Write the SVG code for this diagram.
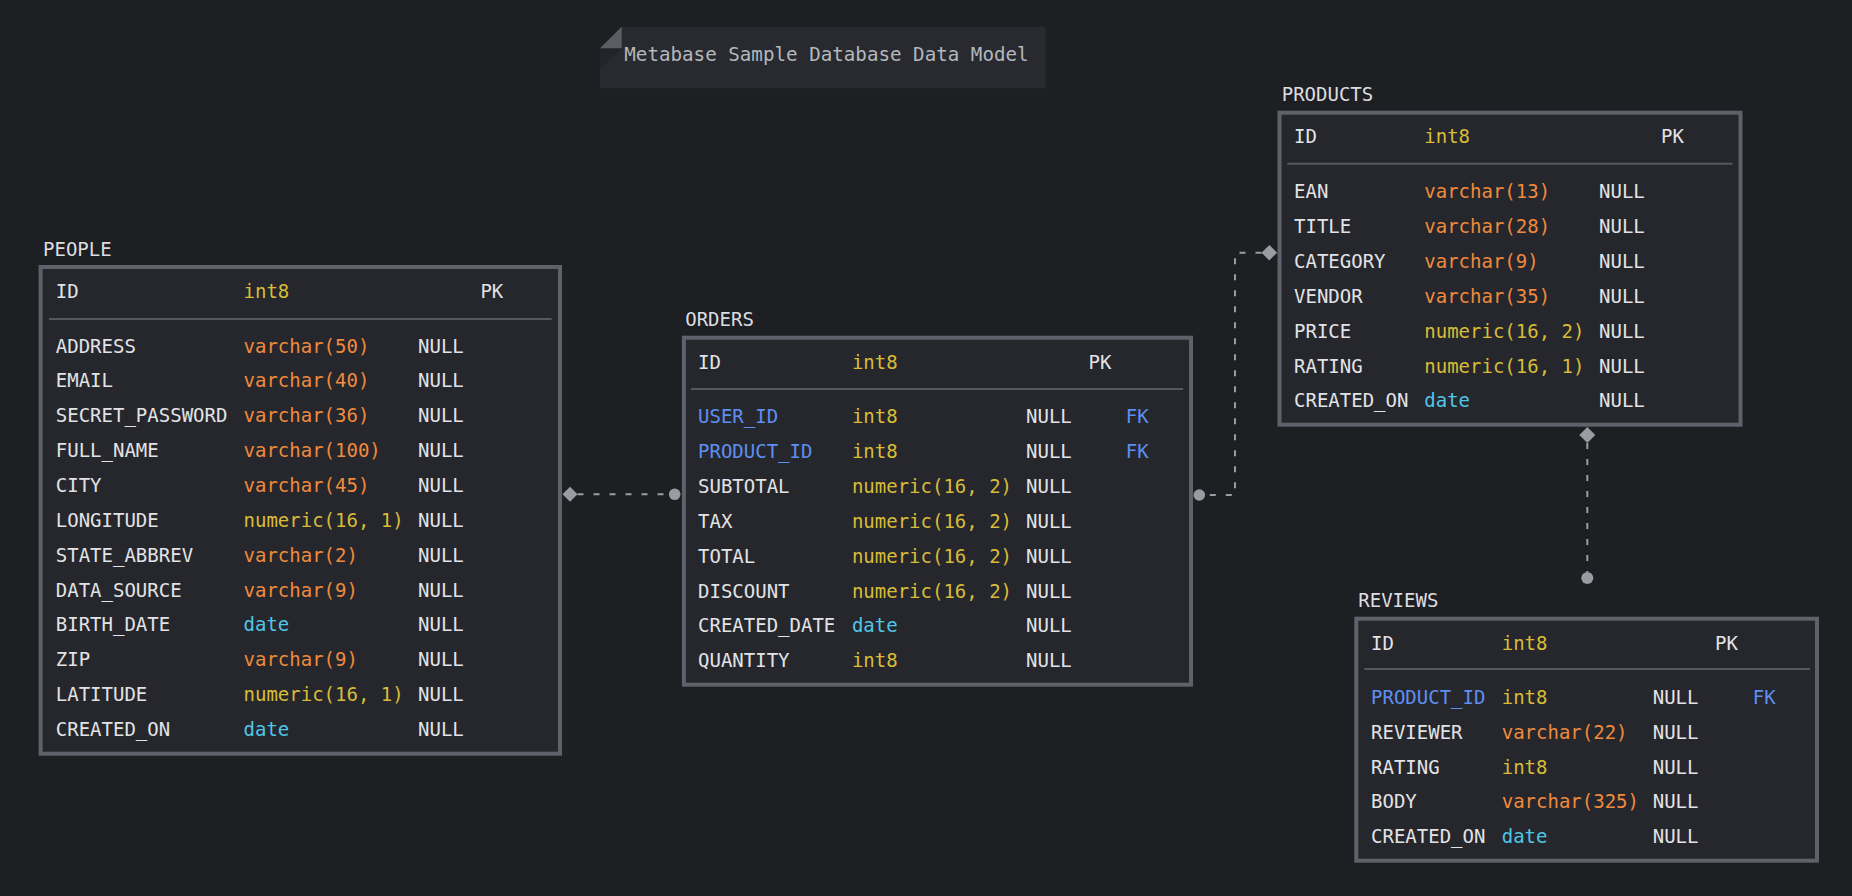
<svg xmlns="http://www.w3.org/2000/svg" width="1852" height="896" viewBox="0 0 1852 896">
<style>
text{font-family:"DejaVu Sans Mono","Liberation Mono",monospace;font-size:19px;fill:#e2e3e6}
.title{fill:#dcdde0}
.tbl{fill:#26272c;stroke:#5f616b;stroke-width:4}
.sep{stroke:#555761;stroke-width:2}
.o{fill:#f08a3c}
.y{fill:#d8bc38}
.c{fill:#4fc6e8}
.b{fill:#5d8ff2}
.conn{fill:none;stroke:#9a9ca2;stroke-width:2;stroke-dasharray:6 10}
.end{fill:#9a9ca3}
.note-t{fill:#b4b7bc;font-size:19.2px}
</style>
<rect width="1852" height="896" fill="#1e1f23"/>

<g id="note">
<polygon points="621.7,26.7 1045.7,26.7 1045.7,88.3 600,88.3 600,48.3" fill="#282a30"/>
<polygon points="600,48.3 621.7,48.3 600,69.5" fill="#232429"/>
<polygon points="621.7,26.7 621.7,48.3 600,48.3" fill="#5b5d63"/>
<text class="note-t" x="624.3" y="61">Metabase Sample Database Data Model</text>
</g>

<g id="connectors">
<path class="conn" d="M577.5,494.3 H669"/>
<polygon class="end" points="562.5,494.3 570,486.8 577.5,494.3 570,501.8"/>
<circle class="end" cx="674.7" cy="494.3" r="5.8"/>
<path class="conn" d="M1261.5,252.7 H1235 V495 H1205"/>
<polygon class="end" points="1261.5,252.7 1269.3,244.9 1277.1,252.7 1269.3,260.5"/>
<circle class="end" cx="1199.3" cy="495" r="5.8"/>
<path class="conn" d="M1587.3,443 V572"/>
<polygon class="end" points="1587.3,427 1595.3,435 1587.3,443 1579.3,435"/>
<circle class="end" cx="1587.3" cy="578" r="6"/>
</g>

<g id="people">
<text class="title" x="43" y="256">PEOPLE</text>
<rect class="tbl" x="40.6" y="267" width="519.4" height="486.7"/>
<text x="55.8" y="298.3">ID</text><text class="y" x="243.5" y="298.3">int8</text><text x="480.4" y="298.3">PK</text>
<line class="sep" x1="49" y1="319" x2="551.7" y2="319"/>
<text x="55.8" y="352.6">ADDRESS</text><text class="o" x="243.5" y="352.6">varchar(50)</text><text x="418" y="352.6">NULL</text>
<text x="55.8" y="387.45">EMAIL</text><text class="o" x="243.5" y="387.45">varchar(40)</text><text x="418" y="387.45">NULL</text>
<text x="55.8" y="422.3">SECRET_PASSWORD</text><text class="o" x="243.5" y="422.3">varchar(36)</text><text x="418" y="422.3">NULL</text>
<text x="55.8" y="457.15">FULL_NAME</text><text class="o" x="243.5" y="457.15">varchar(100)</text><text x="418" y="457.15">NULL</text>
<text x="55.8" y="492">CITY</text><text class="o" x="243.5" y="492">varchar(45)</text><text x="418" y="492">NULL</text>
<text x="55.8" y="526.85">LONGITUDE</text><text class="y" x="243.5" y="526.85">numeric(16, 1)</text><text x="418" y="526.85">NULL</text>
<text x="55.8" y="561.7">STATE_ABBREV</text><text class="o" x="243.5" y="561.7">varchar(2)</text><text x="418" y="561.7">NULL</text>
<text x="55.8" y="596.55">DATA_SOURCE</text><text class="o" x="243.5" y="596.55">varchar(9)</text><text x="418" y="596.55">NULL</text>
<text x="55.8" y="631.4">BIRTH_DATE</text><text class="c" x="243.5" y="631.4">date</text><text x="418" y="631.4">NULL</text>
<text x="55.8" y="666.25">ZIP</text><text class="o" x="243.5" y="666.25">varchar(9)</text><text x="418" y="666.25">NULL</text>
<text x="55.8" y="701.1">LATITUDE</text><text class="y" x="243.5" y="701.1">numeric(16, 1)</text><text x="418" y="701.1">NULL</text>
<text x="55.8" y="735.95">CREATED_ON</text><text class="c" x="243.5" y="735.95">date</text><text x="418" y="735.95">NULL</text>
</g>

<g id="orders">
<text class="title" x="685.2" y="326">ORDERS</text>
<rect class="tbl" x="683.9" y="337.7" width="507.1" height="347"/>
<text x="698" y="368.5">ID</text><text class="y" x="851.9" y="368.5">int8</text><text x="1088.5" y="368.5">PK</text>
<line class="sep" x1="691" y1="389" x2="1183.2" y2="389"/>
<text class="b" x="698" y="423.3">USER_ID</text><text class="y" x="851.9" y="423.3">int8</text><text x="1026" y="423.3">NULL</text><text class="b" x="1125.7" y="423.3">FK</text>
<text class="b" x="698" y="458.15">PRODUCT_ID</text><text class="y" x="851.9" y="458.15">int8</text><text x="1026" y="458.15">NULL</text><text class="b" x="1125.7" y="458.15">FK</text>
<text x="698" y="493">SUBTOTAL</text><text class="y" x="851.9" y="493">numeric(16, 2)</text><text x="1026" y="493">NULL</text>
<text x="698" y="527.85">TAX</text><text class="y" x="851.9" y="527.85">numeric(16, 2)</text><text x="1026" y="527.85">NULL</text>
<text x="698" y="562.7">TOTAL</text><text class="y" x="851.9" y="562.7">numeric(16, 2)</text><text x="1026" y="562.7">NULL</text>
<text x="698" y="597.55">DISCOUNT</text><text class="y" x="851.9" y="597.55">numeric(16, 2)</text><text x="1026" y="597.55">NULL</text>
<text x="698" y="632.4">CREATED_DATE</text><text class="c" x="851.9" y="632.4">date</text><text x="1026" y="632.4">NULL</text>
<text x="698" y="667.25">QUANTITY</text><text class="y" x="851.9" y="667.25">int8</text><text x="1026" y="667.25">NULL</text>
</g>

<g id="products">
<text class="title" x="1281.7" y="100.7">PRODUCTS</text>
<rect class="tbl" x="1279.5" y="112.7" width="461" height="312"/>
<text x="1294" y="143.3">ID</text><text class="y" x="1424.3" y="143.3">int8</text><text x="1661" y="143.3">PK</text>
<line class="sep" x1="1287.3" y1="163.7" x2="1732.7" y2="163.7"/>
<text x="1294" y="198.3">EAN</text><text class="o" x="1424.3" y="198.3">varchar(13)</text><text x="1599" y="198.3">NULL</text>
<text x="1294" y="233.15">TITLE</text><text class="o" x="1424.3" y="233.15">varchar(28)</text><text x="1599" y="233.15">NULL</text>
<text x="1294" y="268">CATEGORY</text><text class="o" x="1424.3" y="268">varchar(9)</text><text x="1599" y="268">NULL</text>
<text x="1294" y="302.85">VENDOR</text><text class="o" x="1424.3" y="302.85">varchar(35)</text><text x="1599" y="302.85">NULL</text>
<text x="1294" y="337.7">PRICE</text><text class="y" x="1424.3" y="337.7">numeric(16, 2)</text><text x="1599" y="337.7">NULL</text>
<text x="1294" y="372.55">RATING</text><text class="y" x="1424.3" y="372.55">numeric(16, 1)</text><text x="1599" y="372.55">NULL</text>
<text x="1294" y="407.4">CREATED_ON</text><text class="c" x="1424.3" y="407.4">date</text><text x="1599" y="407.4">NULL</text>
</g>

<g id="reviews">
<text class="title" x="1358.3" y="606.7">REVIEWS</text>
<rect class="tbl" x="1356.3" y="618.7" width="460.7" height="242"/>
<text x="1371" y="649.5">ID</text><text class="y" x="1501.7" y="649.5">int8</text><text x="1715" y="649.5">PK</text>
<line class="sep" x1="1364.3" y1="669" x2="1810" y2="669"/>
<text class="b" x="1371" y="703.8">PRODUCT_ID</text><text class="y" x="1501.7" y="703.8">int8</text><text x="1652.7" y="703.8">NULL</text><text class="b" x="1752.7" y="703.8">FK</text>
<text x="1371" y="738.65">REVIEWER</text><text class="o" x="1501.7" y="738.65">varchar(22)</text><text x="1652.7" y="738.65">NULL</text>
<text x="1371" y="773.5">RATING</text><text class="y" x="1501.7" y="773.5">int8</text><text x="1652.7" y="773.5">NULL</text>
<text x="1371" y="808.35">BODY</text><text class="o" x="1501.7" y="808.35">varchar(325)</text><text x="1652.7" y="808.35">NULL</text>
<text x="1371" y="843.2">CREATED_ON</text><text class="c" x="1501.7" y="843.2">date</text><text x="1652.7" y="843.2">NULL</text>
</g>
</svg>
